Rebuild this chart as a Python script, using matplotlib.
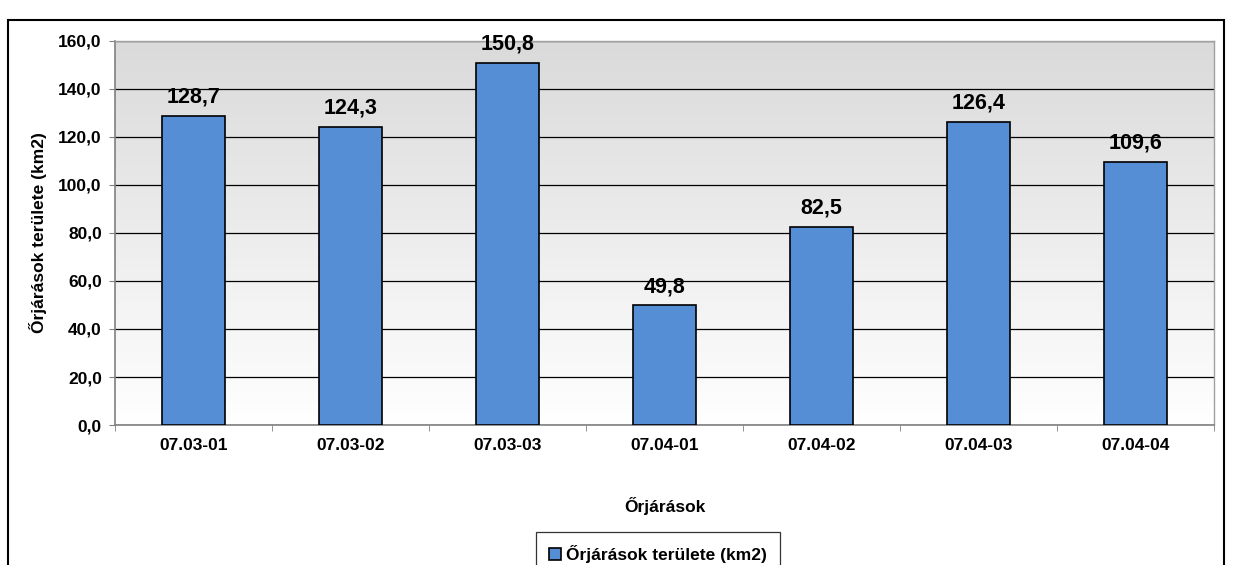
import numpy as np
import matplotlib
matplotlib.use("Agg")
import matplotlib.pyplot as plt
from matplotlib.patches import Rectangle
from matplotlib.ticker import FuncFormatter

plt.rcParams['font.family'] = ['Liberation Sans', 'DejaVu Sans']

categories = ["07.03-01", "07.03-02", "07.03-03", "07.04-01", "07.04-02", "07.04-03", "07.04-04"]
areas = [128.7, 124.3, 150.8, 49.8, 82.5, 126.4, 109.6]
y_ticks = [0, 20, 40, 60, 80, 100, 120, 140, 160]

W, H = 1237, 565
fig = plt.figure(figsize=(W / 100, H / 100), dpi=100)
fig.patch.set_facecolor("white")

# chart frame (runs off the bottom edge of the page)
fig.patches.append(Rectangle((8 / W, -0.2), (1224 - 8) / W, 1.2 - 20 / H,
                             transform=fig.transFigure, fill=False,
                             edgecolor="black", linewidth=1.5, clip_on=False))

left, right, top, bottom = 115, 1214, 41, 425
ax = fig.add_axes([left / W, 1 - bottom / H, (right - left) / W, (bottom - top) / H])

x = np.arange(len(categories))
ax.set_xlim(-0.5, len(categories) - 0.5)
ax.set_ylim(0, 160)

# gray-to-white vertical gradient in the plot area
grad = np.linspace(1.0, 0.0, 256).reshape(-1, 1)
top_c = np.array([218, 218, 218]) / 255
bot_c = np.array([255, 255, 255]) / 255
img = top_c * grad[..., None] + bot_c * (1 - grad[..., None])
ax.imshow(img, extent=(-0.5, len(categories) - 0.5, 0, 160), aspect="auto", zorder=0)

ax.set_yticks(y_ticks)
ax.yaxis.set_major_formatter(FuncFormatter(lambda v, p: f"{v:.1f}".replace(".", ",")))
for t in y_ticks:
    ax.axhline(t, color="black", linewidth=0.9, zorder=1)

bars = ax.bar(x, areas, width=0.4, color="#558ED5", edgecolor="black", linewidth=1.2,
              zorder=3, label="Őrjárások területe (km2)")
for xi, v in zip(x, areas):
    ax.text(xi, v + 3.5, f"{v:.1f}".replace(".", ","), ha="center", va="bottom",
            fontsize=15.5, fontweight="bold", zorder=4)

ax.set_xticks(x)
ax.set_xticklabels(categories)
ax.set_xticks(np.arange(-0.5, len(categories), 1.0), minor=True)
ax.tick_params(axis="x", which="major", length=0, pad=9)
ax.tick_params(axis="x", which="minor", length=4, direction="out", color="#808080")
ax.tick_params(axis="y", length=4, direction="out", color="#808080", pad=5.5)
for lab in ax.get_xticklabels() + ax.get_yticklabels():
    lab.set_fontsize(12.5)
    lab.set_fontweight("bold")

for side in ["top", "right"]:
    ax.spines[side].set_color("#A0A0A0")
    ax.spines[side].set_linewidth(1.0)
for side in ["left", "bottom"]:
    ax.spines[side].set_color("#808080")
    ax.spines[side].set_linewidth(1.2)

ax.set_xlabel("Őrjárások", fontsize=12.5, fontweight="bold", labelpad=32)
ax.set_ylabel("Őrjárások területe (km2)", fontsize=12.5, fontweight="bold", labelpad=8)

leg = fig.legend(handles=[bars], loc="upper center", bbox_to_anchor=(658 / W, 1 - 532 / H),
                 frameon=True, fancybox=False, edgecolor="black",
                 prop={"weight": "bold", "size": 12.5}, handlelength=0.7, handleheight=0.7,
                 handletextpad=0.3, borderpad=0.75, borderaxespad=0)
leg.get_frame().set_linewidth(0.9)

fig.savefig("out.png", dpi=100)
